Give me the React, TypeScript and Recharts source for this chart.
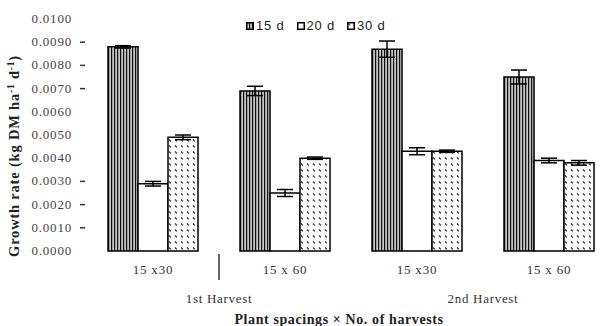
import { BarChart, Bar, XAxis, YAxis, ErrorBar, Legend, Label } from 'recharts';

const categories = ['15 x30', '15 x 60', '15 x30', '15 x 60'];
const harvests = ['1st Harvest', '1st Harvest', '2nd Harvest', '2nd Harvest'];
const rate15 = [0.0088, 0.0069, 0.0087, 0.0075];
const rate20 = [0.0029, 0.0025, 0.0043, 0.0039];
const rate30 = [0.0049, 0.004, 0.0043, 0.0038];
const err15 = [0.00005, 0.0002, 0.00035, 0.0003];
const err20 = [0.0001, 0.00015, 0.00015, 0.0001];
const err30 = [0.0001, 0.00005, 0.00005, 0.0001];
const yTicks = [0, 0.001, 0.002, 0.003, 0.004, 0.005, 0.006, 0.007, 0.008, 0.009, 0.01];
const dashedTicks = [0.001, 0.002, 0.003, 0.007, 0.008, 0.009];
const seriesNames = ['15 d', '20 d', '30 d'];

const data = categories.map((c, i) => ({
  id: `${c}-${i}`,
  harvest: harvests[i],
  d15: rate15[i],
  d20: rate20[i],
  d30: rate30[i],
  e15: err15[i],
  e20: err20[i],
  e30: err30[i],
}));

const fills = ['url(#stripes)', '#ffffff', 'url(#dots)'];
const serif = '"Liberation Serif", "Times New Roman", serif';

const YTick = ({ x, y, payload }: any) => {
  const v = payload.value as number;
  const dashed = dashedTicks.some((t) => Math.abs(t - v) < 1e-9);
  return (
    <g>
      <text x={x - 15} y={y} dy={4} textAnchor="end" fontFamily={serif} fontSize={13} letterSpacing={0.8} fill="#444">
        {v.toFixed(4)}
      </text>
      {dashed && <line x1={x - 7} x2={x - 2} y1={y} y2={y} stroke="#333" strokeWidth={1.5} />}
    </g>
  );
};

const SpacingTick = ({ x, y, payload }: any) => (
  <text x={x} y={y + 21} textAnchor="middle" fontFamily={serif} fontSize={13} letterSpacing={0.8} fill="#333">
    {categories[payload.index]}
  </text>
);

const HarvestTick = ({ x, y, payload }: any) => (
  <g>
    {payload.index === 0 && <line x1={x} x2={x} y1={y - 27} y2={y - 1} stroke="#333" strokeWidth={1.5} />}
    <text x={x} y={y + 22} textAnchor="middle" fontFamily={serif} fontSize={13} letterSpacing={0.7} fill="#333">
      {payload.value}
    </text>
  </g>
);

const YTitle = () => (
  <text
    transform="translate(19,156) rotate(-90)"
    textAnchor="middle"
    fontFamily={serif}
    fontWeight="bold"
    fontSize={14.5}
    letterSpacing={0.8}
    fill="#222"
  >
    Growth rate (kg DM ha
    <tspan dy={-5} fontSize={9.5}>-1</tspan>
    <tspan dy={5}> d</tspan>
    <tspan dy={-5} fontSize={9.5}>-1</tspan>
    <tspan dy={5}>)</tspan>
  </text>
);

const LegendBox = () => (
  <div style={{ display: 'flex', fontFamily: '"Liberation Sans", Arial, sans-serif', fontSize: 13, letterSpacing: 0.8, color: '#222' }}>
    {seriesNames.map((name, i) => (
      <div key={name} style={{ display: 'flex', alignItems: 'center', marginRight: 12 }}>
        <svg width={8} height={8} style={{ marginRight: 2 }}>
          <rect x={0.75} y={0.75} width={6.5} height={6.5} fill={fills[i]} stroke="#000" strokeWidth={1.5} />
        </svg>
        <span>{name}</span>
      </div>
    ))}
  </div>
);

export default function App() {
  return (
    <div style={{ position: 'absolute', left: 0, top: 0, background: '#fff' }}>
      <BarChart
        width={615}
        height={326}
        data={data}
        margin={{ top: 19, right: 0, left: 0, bottom: 0 }}
        barSize={30}
        barGap={0}
        barCategoryGap={21}
      >
        <defs>
          <pattern id="stripes" patternUnits="userSpaceOnUse" width={3} height={10}>
            <rect width={3} height={10} fill="#c4c4c4" />
            <rect x={0} width={1.2} height={10} fill="#111" />
          </pattern>
          <pattern id="dots" patternUnits="userSpaceOnUse" width={6} height={6}>
            <rect width={6} height={6} fill="#fff" />
            <line x1={1} y1={1.5} x2={2.8} y2={3.3} stroke="#222" strokeWidth={1.2} />
          </pattern>
        </defs>
        <XAxis dataKey="id" axisLine={false} tickLine={false} tickSize={0} height={28} tick={<SpacingTick />} interval={0} />
        <XAxis
          xAxisId="harvest"
          dataKey="harvest"
          allowDuplicatedCategory={false}
          axisLine={false}
          tickLine={false}
          tickSize={0}
          height={47}
          tick={<HarvestTick />}
          interval={0}
        >
          <Label
            value="Plant spacings × No. of harvests"
            position="insideBottom"
            offset={2}
            dx={-12}
            fontFamily={serif}
            fontWeight="bold"
            fontSize={14}
            letterSpacing={0.6}
            fill="#222"
          />
        </XAxis>
        <YAxis
          width={87}
          domain={[0, 0.01]}
          ticks={yTicks}
          axisLine={false}
          tickLine={false}
          tickSize={0}
          tickMargin={0}
          tick={<YTick />}
          label={<YTitle />}
        />
        <Legend layout="vertical" align="center" verticalAlign="middle" content={<LegendBox />} wrapperStyle={{ top: 18, left: 246, width: 'auto' }} />
        <Bar dataKey="d15" name="15 d" fill={fills[0]} stroke="#000" strokeWidth={1.5} isAnimationActive={false}>
          <ErrorBar dataKey="e15" width={8} stroke="#000" strokeWidth={1.5} />
        </Bar>
        <Bar dataKey="d20" name="20 d" fill={fills[1]} stroke="#000" strokeWidth={1.5} isAnimationActive={false}>
          <ErrorBar dataKey="e20" width={8} stroke="#000" strokeWidth={1.5} />
        </Bar>
        <Bar dataKey="d30" name="30 d" fill={fills[2]} stroke="#000" strokeWidth={1.5} isAnimationActive={false}>
          <ErrorBar dataKey="e30" width={8} stroke="#000" strokeWidth={1.5} />
        </Bar>
      </BarChart>
    </div>
  );
}
